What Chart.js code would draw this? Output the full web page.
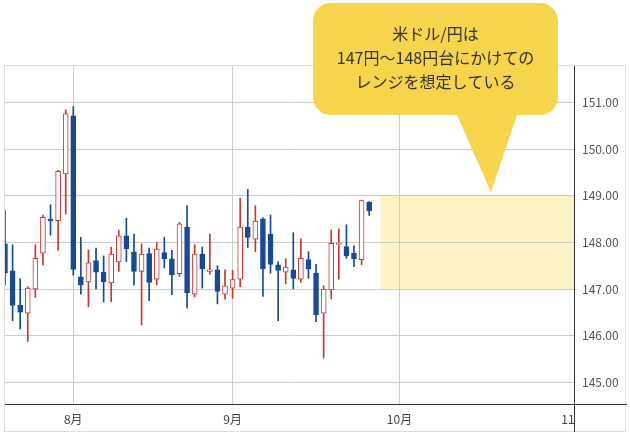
<!DOCTYPE html>
<html>
<head>
<meta charset="utf-8">
<script src="https://cdn.jsdelivr.net/npm/chart.js@4"></script>
<style>
  body { margin: 0; background: #fff; }
</style>
</head>
<body>
<canvas id="chart" width="630" height="439"></canvas>
<script>
// trading days (weekdays) shown on the axis
const dates = [
  '7/21','7/22','7/23','7/24','7/25','7/28','7/29','7/30','7/31',
  '8/1','8/4','8/5','8/6','8/7','8/8','8/11','8/12','8/13','8/14','8/15','8/18','8/19','8/20','8/21','8/22','8/25','8/26','8/27','8/28','8/29',
  '9/1','9/2','9/3','9/4','9/5','9/8','9/9','9/10','9/11','9/12','9/15','9/16','9/17','9/18','9/19','9/22','9/23','9/24','9/25','9/26','9/29','9/30',
  '10/1','10/2','10/3','10/6','10/7','10/8','10/9','10/10','10/13','10/14','10/15','10/16','10/17','10/20','10/21','10/22','10/23','10/24','10/27','10/28','10/29','10/30','10/31',
  '11/3'
];

const opens = [
  147.97, 147.39, 146.65, 146.48, 147.00, 147.77, 148.50, 148.47, 149.47, 150.72,
  147.26, 147.15, 147.61, 147.36, 147.13, 147.58, 148.14, 147.80, 147.38, 147.76,
  147.21, 147.78, 147.65, 147.33, 148.33, 146.89, 147.75, 147.38, 147.41, 146.89,
  147.02, 147.21, 148.33, 148.07, 148.51, 148.18, 147.52, 147.36, 147.41, 147.21,
  147.63, 147.34, 146.48, 146.98, 147.96, 147.91, 147.77, 147.63, 148.86
];
const highs = [
  148.68, 147.95, 147.22, 147.05, 147.95, 148.59, 148.81, 149.55, 150.85, 150.92,
  148.11, 147.84, 147.88, 147.71, 147.90, 148.26, 148.52, 148.18, 147.97, 147.88,
  148.00, 148.11, 147.83, 148.43, 148.79, 147.95, 147.90, 148.18, 147.50, 147.41,
  147.40, 148.95, 149.14, 148.79, 148.53, 148.59, 147.59, 147.65, 148.21, 148.08,
  147.80, 147.53, 147.07, 148.27, 148.29, 148.38, 147.93, 148.91, 148.88
];
const lows = [
  147.09, 146.32, 146.14, 145.87, 146.82, 147.52, 148.16, 147.83, 148.61, 147.30,
  146.89, 146.62, 147.00, 146.72, 146.73, 147.38, 147.59, 147.09, 146.23, 146.75,
  147.09, 147.45, 146.88, 147.27, 146.59, 146.83, 147.02, 147.32, 146.68, 146.78,
  146.80, 147.05, 147.89, 147.80, 146.84, 147.34, 146.32, 147.11, 147.00, 147.14,
  147.23, 146.30, 145.52, 146.79, 147.21, 147.66, 147.48, 147.52, 148.58
];
const closes = [
  147.34, 146.65, 146.50, 147.02, 147.66, 148.54, 148.46, 149.53, 150.76, 147.42,
  147.08, 147.56, 147.36, 147.15, 147.75, 148.14, 147.86, 147.38, 147.75, 147.14,
  147.86, 147.65, 147.30, 148.40, 146.92, 147.75, 147.43, 147.41, 146.95, 147.07,
  147.20, 148.33, 148.11, 148.46, 147.43, 147.53, 147.40, 147.47, 147.23, 147.66,
  147.43, 146.45, 147.00, 147.98, 147.98, 147.71, 147.65, 148.90, 148.68
];

const tickDates = ['8/1', '9/1', '10/1', '11/3'];
const tickLabels = ['8月', '9月', '10月', '11月'];

const rangeFrom = '9/26';
const rangeLow = 147;
const rangeHigh = 149;

const noteLines = ['米ドル/円は', '147円～148円台にかけての', 'レンジを想定している'];

const UP = '#c8372d';
const DOWN = '#174a96';
const isUp = opens.map((o, i) => closes[i] >= o);
const FONT = "'Noto Sans CJK JP', 'Noto Sans', sans-serif";

const overlay = {
  id: 'overlay',
  beforeDraw(chart) {
    const { ctx, chartArea: a, scales: { x, y } } = chart;
    const step = x.getPixelForValue(1) - x.getPixelForValue(0);
    const left = x.getPixelForValue(dates.indexOf(rangeFrom)) + step / 2;
    const top = y.getPixelForValue(rangeHigh);
    ctx.save();
    ctx.fillStyle = '#fdf1c6';
    ctx.fillRect(left, top, a.right - left, y.getPixelForValue(rangeLow) - top);
    ctx.restore();
  },
  afterDraw(chart) {
    const { ctx, chartArea: a } = chart;
    ctx.save();
    // hide the part of the last month label that runs under the price axis
    ctx.fillStyle = '#fff';
    ctx.fillRect(a.right + 1, a.bottom + 1, 60, 27);

    // outer frame
    ctx.strokeStyle = '#dddddd';
    ctx.lineWidth = 1;
    ctx.strokeRect(a.left - 0.5, a.top - 0.5, 621, 366);

    // axis lines
    ctx.strokeStyle = '#333';
    ctx.beginPath();
    ctx.moveTo(a.left, a.bottom + 0.5);
    ctx.lineTo(627, a.bottom + 0.5);
    ctx.moveTo(a.right + 0.5, a.top);
    ctx.lineTo(a.right + 0.5, 432);
    ctx.stroke();

    // speech bubble
    const bx = 313, by = 3, bw = 245, bh = 112, r = 18;
    ctx.fillStyle = '#f6d54c';
    ctx.beginPath();
    ctx.moveTo(bx + r, by);
    ctx.lineTo(bx + bw - r, by);
    ctx.arcTo(bx + bw, by, bx + bw, by + r, r);
    ctx.lineTo(bx + bw, by + bh - r);
    ctx.arcTo(bx + bw, by + bh, bx + bw - r, by + bh, r);
    ctx.lineTo(517, by + bh);
    ctx.lineTo(491, 192);
    ctx.lineTo(457, by + bh);
    ctx.lineTo(bx + r, by + bh);
    ctx.arcTo(bx, by + bh, bx, by + bh - r, r);
    ctx.lineTo(bx, by + r);
    ctx.arcTo(bx, by, bx + r, by, r);
    ctx.closePath();
    ctx.fill();

    ctx.fillStyle = '#333';
    ctx.font = '16px ' + FONT;
    ctx.textAlign = 'center';
    ctx.textBaseline = 'middle';
    noteLines.forEach((line, i) => ctx.fillText(line, bx + bw / 2, 34 + i * 24));
    ctx.restore();
  }
};

new Chart(document.getElementById('chart'), {
  type: 'bar',
  data: {
    labels: dates,
    datasets: [
      {
        label: 'body',
        data: opens.map((o, i) => [o, closes[i]]),
        backgroundColor: isUp.map((u) => (u ? '#ffffff' : DOWN)),
        borderColor: isUp.map((u) => (u ? UP : DOWN)),
        borderWidth: 1,
        borderSkipped: false,
        barThickness: 5,
        grouped: false,
        clip: 0
      },
      {
        label: 'wick',
        data: lows.map((l, i) => [l, highs[i]]),
        backgroundColor: isUp.map((u) => (u ? UP : DOWN)),
        borderWidth: 0,
        barThickness: 1,
        grouped: false,
        clip: 0
      }
    ]
  },
  options: {
    responsive: false,
    animation: false,
    events: [],
    layout: { padding: { left: 5, top: 66, right: 4, bottom: 7 } },
    plugins: { legend: { display: false }, tooltip: { enabled: false } },
    scales: {
      x: {
        offset: false,
        grid: { offset: false, color: '#cccccc', drawTicks: false },
        border: { display: false },
        afterBuildTicks: (scale) => {
          scale.ticks = scale.ticks.filter((t) => tickDates.includes(dates[t.value]));
        },
        afterFit: (scale) => { scale.height = 28; },
        ticks: {
          autoSkip: false,
          maxRotation: 0,
          padding: 8,
          color: '#444',
          font: { family: FONT, size: 12 },
          callback: (v) => tickLabels[tickDates.indexOf(dates[v])]
        }
      },
      y: {
        position: 'right',
        min: 144.53,
        max: 151.79,
        grid: { color: '#cccccc', drawTicks: false },
        border: { display: false },
        afterFit: (scale) => { scale.width = 52; },
        ticks: {
          stepSize: 1,
          includeBounds: false,
          padding: 8,
          color: '#555',
          font: { family: FONT, size: 12 },
          callback: (v) => v.toFixed(2)
        }
      }
    }
  },
  plugins: [overlay]
});
</script>
</body>
</html>
